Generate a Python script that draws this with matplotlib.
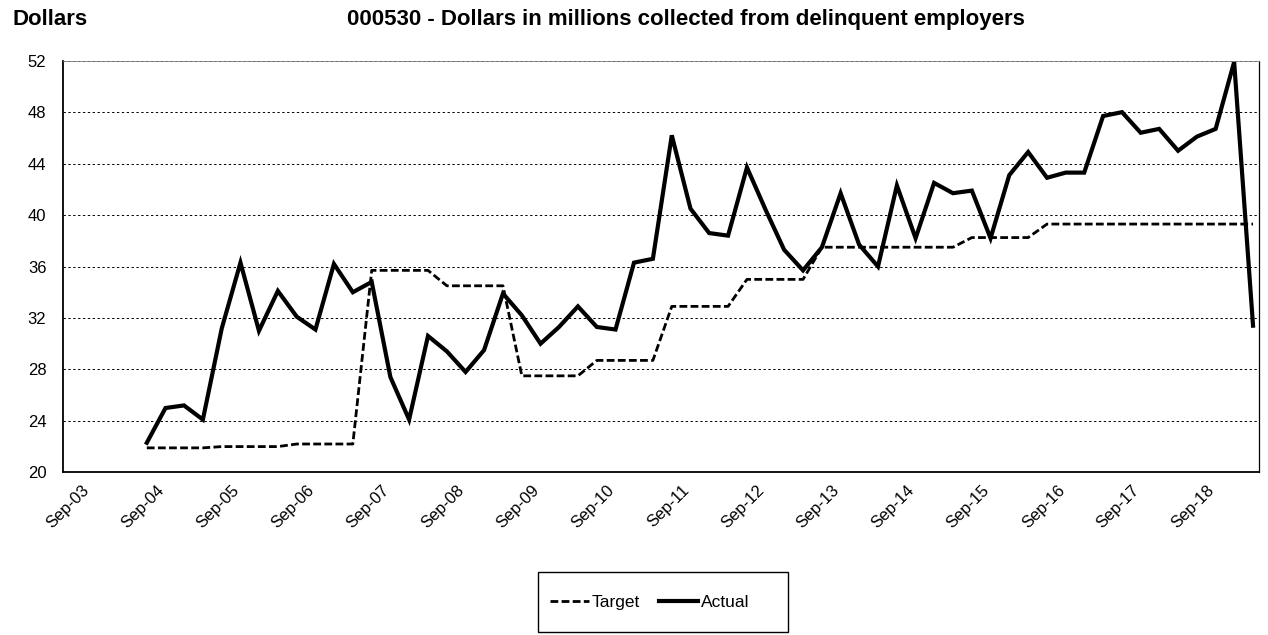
import matplotlib
matplotlib.use("Agg")
from matplotlib import pyplot as plt
from matplotlib.transforms import ScaledTranslation
from matplotlib.patches import Rectangle
import pandas as pd

plt.rcParams['font.family'] = ['Liberation Sans', 'DejaVu Sans']

# quarterly measurements, Sep-04 .. Jun-19
quarters = pd.date_range("2004-09-01", periods=60, freq="QS-SEP")

target = [21.9, 21.9, 21.9, 21.9, 22.0, 22.0, 22.0, 22.0, 22.2, 22.2, 22.2, 22.2,
          35.7, 35.7, 35.7, 35.7, 34.5, 34.5, 34.5, 34.5, 27.5, 27.5, 27.5, 27.5,
          28.7, 28.7, 28.7, 28.7, 32.9, 32.9, 32.9, 32.9, 35.0, 35.0, 35.0, 35.0,
          37.5, 37.5, 37.5, 37.5, 37.5, 37.5, 37.5, 37.5, 38.25, 38.25, 38.25, 38.25,
          39.3, 39.3, 39.3, 39.3, 39.3, 39.3, 39.3, 39.3, 39.3, 39.3, 39.3, 39.3]

actual = [22.3, 25.0, 25.2, 24.1, 31.2, 36.3, 31.0, 34.1, 32.1, 31.1, 36.2, 34.0,
          34.8, 27.4, 24.1, 30.6, 29.4, 27.8, 29.5, 33.9, 32.2, 30.0, 31.3, 32.9,
          31.3, 31.1, 36.3, 36.6, 46.2, 40.5, 38.6, 38.4, 43.7, 40.4, 37.3, 35.7,
          37.5, 41.7, 37.7, 36.0, 42.3, 38.2, 42.5, 41.7, 41.9, 38.2, 43.1, 44.9,
          42.9, 43.3, 43.3, 47.7, 48.0, 46.4, 46.7, 45.0, 46.1, 46.7, 51.9, 31.4]

tick_dates = pd.date_range("2003-09-01", "2018-09-01", freq="YS-SEP")
tick_labels = [d.strftime("%b-%y") for d in tick_dates]
y_ticks = list(range(20, 53, 4))

W, H = 1268, 635
fig = plt.figure(figsize=(W / 100, H / 100), dpi=100)
ax = fig.add_axes([0.0497, 0.2562, 0.9432, 0.6482])

ax.plot(quarters, target, color="black", lw=2, dashes=(2.8, 1.2), label="Target")
ax.plot(quarters, actual, color="black", lw=3, solid_joinstyle="miter", label="Actual")

ax.set_ylim(20, 52)
ax.set_yticks(y_ticks)
ax.set_xlim(pd.Timestamp("2003-07-21"), pd.Timestamp("2019-06-30"))
ax.set_xticks(tick_dates)
ax.set_xticklabels(tick_labels, rotation=45, ha="right", va="top",
                   rotation_mode="anchor", fontsize=12)
ax.tick_params(axis="x", length=0, pad=7.5)
ax.tick_params(axis="y", length=0, pad=12, labelsize=12)
# shift the slanted labels a little to the right, like the original
shift = ScaledTranslation(10 / 100, 0, fig.dpi_scale_trans)
for lbl in ax.get_xticklabels():
    lbl.set_transform(lbl.get_transform() + shift)

ax.yaxis.grid(True, color="black", lw=0.7, linestyle=(0, (2.4, 2.6)))
ax.set_axisbelow(True)
for side in ["left", "bottom", "right"]:
    ax.spines[side].set_color("black")
    ax.spines[side].set_linewidth(1.3)
ax.spines["right"].set_linewidth(0.9)
ax.spines["top"].set_color("#808080")
ax.spines["top"].set_linewidth(0.6)

fig.text(12 / W, 1 - 25 / H, "Dollars", fontsize=16, fontweight="bold",
         ha="left", va="baseline")
fig.text(347 / W, 1 - 25 / H,
         "000530 - Dollars in millions collected from delinquent employers",
         fontsize=16, fontweight="bold", ha="left", va="baseline")

# legend entries without frame, box drawn separately (Excel style padding)
leg = fig.legend(loc="center", bbox_to_anchor=(650 / W, 1 - 602 / H), ncol=2,
                 fontsize=12.5, frameon=False,
                 handlelength=2.25, handletextpad=0.15, columnspacing=1.1)
fig.patches.append(Rectangle((538 / W, 1 - 632 / H), 250 / W, 60 / H,
                             transform=fig.transFigure, fill=False,
                             edgecolor="black", lw=1.0))

fig.savefig("out.png", dpi=100)
